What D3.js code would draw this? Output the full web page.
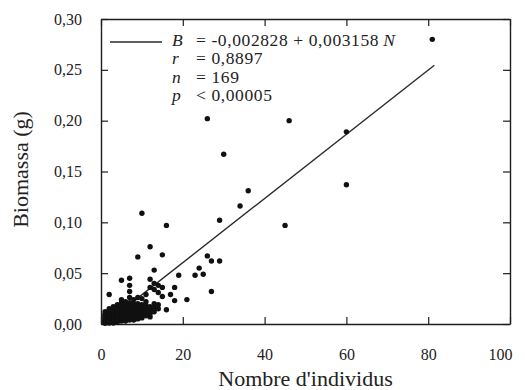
<!DOCTYPE html>
<html>
<head>
<meta charset="utf-8">
<script src="https://cdn.jsdelivr.net/npm/d3@7/dist/d3.min.js"></script>
<style>
  body { margin: 0; background: #fff; }
</style>
</head>
<body>
<svg id="chart" width="525" height="390"></svg>
<script>
// nombre d'individus (N) and biomassa (B)
const nombre = [
  81, 60, 60, 46, 45, 26, 30, 36, 34, 29, 10, 16, 12, 9, 15, 26, 27, 29, 24, 25,
  23, 19, 18, 27, 17, 18, 21, 13, 5, 12, 13, 14, 15, 12, 16, 15, 11, 2, 7, 7,
  7, 7, 11, 9, 12, 14, 13, 10,
  1, 1, 1, 1, 1, 1, 1, 1, 1, 1, 1, 1, 1, 1,
  2, 2, 2, 2, 2, 2, 2, 2, 2, 2, 2, 2, 2, 2,
  3, 3, 3, 3, 3, 3, 3, 3, 3, 3, 3, 3, 3, 3,
  4, 4, 4, 4, 4, 4, 4, 4, 4, 4, 4, 4, 4,
  5, 5, 5, 5, 5, 5, 5, 5, 5, 5, 5, 5, 5,
  6, 6, 6, 6, 6, 6, 6, 6, 6, 6, 6,
  7, 7, 7, 7, 7, 7, 7, 7, 7,
  8, 8, 8, 8, 8, 8, 8, 8,
  9, 9, 9, 9, 9, 9, 9,
  10, 10, 10, 10, 10, 10,
  11, 11, 11, 11,
  12, 12, 12,
  13, 13, 13,
  14, 14
];
const biomassa = [
  .280, .189, .137, .200, .097, .202, .167, .131, .116, .102, .109, .097, .076, .066, .068, .067, .062, .062, .055, .049,
  .048, .048, .036, .032, .029, .023, .024, .053, .043, .044, .040, .038, .036, .036, .014, .027, .022, .029, .045, .038,
  .032, .026, .029, .020, .007, .031, .034, .025,
  .001, .002, .003, .004, .005, .006, .007, .008, .009, .010, .012, .002, .001, .003,
  .001, .002, .003, .004, .005, .006, .007, .008, .009, .010, .011, .013, .015, .002,
  .001, .002, .003, .004, .005, .006, .007, .008, .009, .010, .011, .012, .014, .017,
  .002, .003, .004, .005, .006, .007, .008, .009, .010, .011, .013, .016, .019,
  .003, .004, .005, .006, .007, .009, .010, .012, .013, .015, .018, .021, .024,
  .003, .005, .006, .008, .009, .011, .012, .014, .017, .020, .022,
  .004, .006, .007, .010, .012, .013, .016, .019, .021,
  .004, .006, .008, .011, .014, .017, .020, .024,
  .005, .007, .009, .012, .015, .018, .026,
  .006, .008, .010, .013, .016, .019,
  .008, .012, .015, .018,
  .010, .014, .017,
  .012, .016, .020,
  .015, .019
];

const xTicks = [0, 20, 40, 60, 80, 100];
const yTicks = [0, 0.05, 0.10, 0.15, 0.20, 0.25, 0.30];

// regression B = a + b N
const intercept = -0.002828;
const slope = 0.003158;
const fitRange = [1, 81.5];

const legendRows = [
  {sym: "B", text: "= -0,002828 + 0,003158", tail: "N"},
  {sym: "r", text: "= 0,8897"},
  {sym: "n", text: "= 169"},
  {sym: "p", text: "< 0,00005"}
];

const serif = "'Liberation Serif', 'Times New Roman', Times, serif";
const svg = d3.select("#chart").style("font-family", serif);
const plotL = 101, plotR = 510, plotT = 19, plotB = 324;

const x = d3.scaleLinear().domain([0, 100]).range([plotL, plotR]);
const y = d3.scaleLinear().domain([0, 0.30]).range([plotB, plotT]);

const fmt = d => d.toFixed(2).replace(".", ",");
const ink = "#1e1e1e";

function styleAxis(g) {
  g.attr("font-family", null).attr("font-size", null);
  g.select(".domain").attr("stroke", ink).attr("stroke-width", 1.4);
  g.selectAll(".tick line").attr("stroke", ink).attr("stroke-width", 1.2);
  g.selectAll(".tick text").attr("fill", "#222")
    .style("font-family", serif).style("font-size", "16px");
}

// bottom axis
const gx = svg.append("g").attr("transform", `translate(0,${plotB})`)
  .call(d3.axisBottom(x).tickValues(xTicks).tickSizeInner(-7).tickSizeOuter(0).tickPadding(25))
  .call(styleAxis);
gx.selectAll(".tick text").filter(d => d === 100).attr("dx", -10);

// left axis
svg.append("g").attr("transform", `translate(${plotL},0)`)
  .call(d3.axisLeft(y).tickValues(yTicks).tickFormat(fmt).tickSizeInner(-7).tickSizeOuter(0).tickPadding(19))
  .call(styleAxis);

// top and right: ticks only
svg.append("g").attr("transform", `translate(0,${plotT})`)
  .call(d3.axisTop(x).tickValues(xTicks).tickFormat("").tickSizeInner(-7).tickSizeOuter(0))
  .call(styleAxis);
svg.append("g").attr("transform", `translate(${plotR},0)`)
  .call(d3.axisRight(y).tickValues(yTicks).tickFormat("").tickSizeInner(-7).tickSizeOuter(0))
  .call(styleAxis);

// axis titles
svg.append("text")
  .attr("x", (plotL + plotR) / 2).attr("y", 386)
  .attr("text-anchor", "middle").attr("fill", "#222")
  .style("font-family", serif).style("font-size", "22px")
  .text("Nombre d'individus");
svg.append("text")
  .attr("transform", `translate(28,${(plotT + plotB) / 2 - 2}) rotate(-90)`)
  .attr("text-anchor", "middle").attr("fill", "#222")
  .style("font-family", serif).style("font-size", "22px")
  .text("Biomassa (g)");

// regression line
svg.append("line")
  .attr("x1", x(fitRange[0])).attr("y1", y(intercept + slope * fitRange[0]))
  .attr("x2", x(fitRange[1])).attr("y2", y(intercept + slope * fitRange[1]))
  .attr("stroke", "#2a2a2a").attr("stroke-width", 1.4);

// points
svg.append("g")
  .selectAll("circle")
  .data(d3.range(nombre.length))
  .join("circle")
  .attr("cx", i => x(nombre[i]))
  .attr("cy", i => y(biomassa[i]))
  .attr("r", 2.7)
  .attr("fill", "#111");

// legend
const leg = svg.append("g").style("font-family", serif).style("font-size", "17.5px")
  .style("letter-spacing", "0.6px").attr("fill", "#222");
leg.append("line").attr("x1", 110).attr("x2", 162).attr("y1", 42).attr("y2", 42)
  .attr("stroke", "#2a2a2a").attr("stroke-width", 1.4);
legendRows.forEach((r, i) => {
  const yy = 46 + i * 18.4;
  leg.append("text").attr("x", 172).attr("y", yy)
    .style("font-style", "italic").text(r.sym);
  const t = leg.append("text").attr("x", 196).attr("y", yy);
  t.append("tspan").text(r.text);
  if (r.tail) t.append("tspan").attr("dx", 4).style("font-style", "italic").text(r.tail);
});
</script>
</body>
</html>
